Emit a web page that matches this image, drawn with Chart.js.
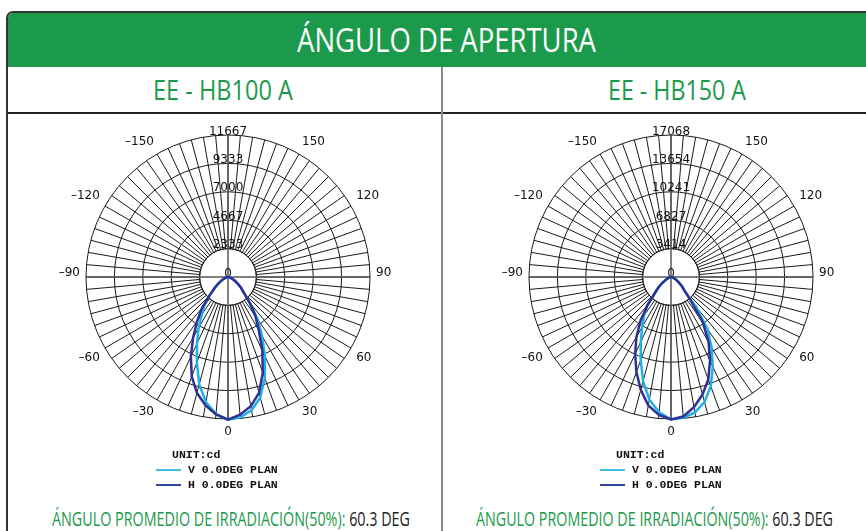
<!DOCTYPE html>
<html>
<head>
<meta charset="utf-8">
<script src="https://cdn.jsdelivr.net/npm/chart.js@4.4.1/dist/chart.umd.min.js"></script>
<style>
  body { margin: 0; width: 866px; height: 531px; overflow: hidden; background: #fff; position: relative; font-family: 'Open Sans', sans-serif; }
  .abs { position: absolute; }
  #frame { left: 6px; top: 11px; width: 900px; height: 560px; border: 2px solid #333; border-radius: 7px 0 0 0; box-sizing: border-box; }
  #head { left: 8px; top: 13px; width: 900px; height: 54px; background: #1b9a4b; border-radius: 5px 0 0 0; }
  .fit { white-space: nowrap; transform-origin: 0 0; line-height: 1; }
  .green { color: #1b9a4b; }
  .leg { font-family: 'Liberation Mono', monospace; font-weight: bold; font-size: 11.5px; line-height: 12px; color: #111; white-space: nowrap; }
  .sw { height: 2px; width: 25px; }
  .wrap { width: 360px; height: 360px; }
</style>
</head>
<body>
<div id="frame" class="abs"></div>
<div id="head" class="abs"></div>
<div class="abs" style="left:8px;top:112px;width:860px;height:1.5px;background:#222"></div>
<div class="abs" style="left:440.5px;top:67px;width:2.6px;height:470px;background:#8c8c8c"></div>

<div id="tHead" class="abs fit" style="font-size:32px;color:#fff">ÁNGULO DE APERTURA</div>
<div id="tLeft" class="abs fit green" style="font-size:27px">EE - HB100 A</div>
<div id="tRight" class="abs fit green" style="font-size:27px">EE - HB150 A</div>

<div class="abs wrap" style="left:48px;top:97px"><canvas id="chartA" width="360" height="360"></canvas></div>
<div class="abs wrap" style="left:491px;top:97px"><canvas id="chartB" width="360" height="360"></canvas></div>

<div class="abs leg" style="left:172px;top:449px">UNIT:cd</div>
<div class="abs sw" style="left:156px;top:469px;background:#3fc0df"></div>
<div class="abs leg" style="left:188px;top:464px">V 0.0DEG PLAN</div>
<div class="abs sw" style="left:156px;top:484px;background:#34479a"></div>
<div class="abs leg" style="left:188px;top:479px">H 0.0DEG PLAN</div>

<div class="abs leg" style="left:616px;top:449px">UNIT:cd</div>
<div class="abs sw" style="left:600px;top:469px;background:#3fc0df"></div>
<div class="abs leg" style="left:632px;top:464px">V 0.0DEG PLAN</div>
<div class="abs sw" style="left:600px;top:484px;background:#34479a"></div>
<div class="abs leg" style="left:632px;top:479px">H 0.0DEG PLAN</div>

<div id="bLeft" class="abs fit" style="font-size:19.5px"><span class="green">ÁNGULO PROMEDIO DE IRRADIACIÓN(50%):</span><span style="color:#222"> 60.3 DEG</span></div>
<div id="bRight" class="abs fit" style="font-size:19.5px"><span class="green">ÁNGULO PROMEDIO DE IRRADIACIÓN(50%):</span><span style="color:#222"> 60.3 DEG</span></div>

<script>
// angles in degrees: 0 = straight down, positive = right half
const angles = [-90, -85, -80, -75, -70, -65, -60, -55, -50, -45, -40, -35, -30, -25, -20, -15, -10, -5,
  0, 5, 10, 15, 20, 25, 30, 35, 40, 45, 50, 55, 60, 65, 70, 75, 80, 85, 90];

// EE - HB100 A (cd)
const hb100V = [0, 20, 70, 150, 270, 440, 680, 1040, 1470, 2140, 3000, 3730, 4840, 6030, 7480, 9130, 10440, 11300,
  11720, 11580, 11120, 10240, 8830, 7180, 5580, 4240, 2850, 1870, 1410, 1010, 700, 450, 280, 150, 70, 20, 0];
const hb100H = [0, 20, 70, 150, 270, 440, 680, 1040, 1470, 2140, 3310, 4420, 5730, 7220, 8700, 9860, 10690, 11330,
  11720, 11360, 10780, 9850, 8360, 6670, 5070, 3930, 2790, 1870, 1410, 1010, 700, 450, 280, 150, 70, 20, 0];

// EE - HB150 A (cd)
const hb150V = [0, 25, 80, 180, 330, 530, 820, 1360, 2010, 2760, 4390, 5620, 6950, 8590, 10650, 12960, 14980, 16320,
  17120, 17000, 16520, 15560, 13980, 11880, 9760, 7650, 4760, 2240, 1690, 1130, 800, 530, 330, 180, 80, 25, 0];
const hb150H = [0, 25, 80, 180, 330, 530, 820, 1360, 2010, 2760, 4390, 6370, 8310, 10200, 12150, 14040, 15680, 16650,
  17120, 16840, 15900, 14630, 13100, 11100, 9040, 6700, 3650, 2240, 1690, 1130, 800, 530, 330, 180, 80, 25, 0];

// ring values
const ringsHB100 = [2333, 4667, 7000, 9333, 11667];
const ringsHB150 = [3414, 6827, 10241, 13654, 17068];

// angle labels round the rim (180 at the top is left blank)
const rimLabels = [150, 120, 90, 60, 30, 0, -30, -60, -90, -120, -150];

// full circle of spokes every 5 degrees, clockwise from the top (180)
const circle = [];
for (let a = 180; a > -180; a -= 5) circle.push(a);
const onCircle = s => circle.map(a => { const i = angles.indexOf(a); return i < 0 ? 0 : s[i]; });

const polarDecor = {
  id: 'polarDecor',
  beforeDatasetsDraw(chart, args, opts) {
    const r = chart.scales.r, ctx = chart.ctx;
    const cx = r.xCenter, cy = r.yCenter, R = r.drawingArea;
    const hole = r.getDistanceFromCenterForValue(opts.rings[0]);
    ctx.save();
    // empty centre, spokes start at the first ring
    ctx.fillStyle = '#fff';
    ctx.beginPath(); ctx.arc(cx, cy, hole - 0.6, 0, Math.PI * 2); ctx.fill();
    ctx.strokeStyle = '#1a1a1a'; ctx.lineWidth = 1;
    ctx.beginPath(); ctx.arc(cx, cy, hole, 0, Math.PI * 2); ctx.stroke();
    ctx.strokeStyle = '#5a5a5a'; ctx.lineWidth = 1.5;
    ctx.beginPath();
    ctx.moveTo(cx - R, cy); ctx.lineTo(cx + R, cy);
    ctx.moveTo(cx, cy - R); ctx.lineTo(cx, cy + R);
    ctx.stroke();

    ctx.fillStyle = '#111';
    ctx.font = '12px "DejaVu Sans"';
    // ring values up the vertical axis
    ctx.textAlign = 'center'; ctx.textBaseline = 'alphabetic';
    [0, ...opts.rings].forEach(v => {
      const d = r.getDistanceFromCenterForValue(v);
      ctx.fillText(String(v), cx, cy - d - 0.5);
    });
    // angle labels
    ctx.textBaseline = 'middle';
    const h = 14;
    circle.forEach((a, i) => {
      if (!rimLabels.includes(a)) return;
      const p = r.getPointPosition(i, R + 6);
      const deg = (i * 5) % 360;
      ctx.textAlign = (deg === 0 || deg === 180) ? 'center' : (deg < 180 ? 'left' : 'right');
      let y;
      if (deg === 90 || deg === 270) y = p.y - 4;
      else if (deg < 90 || deg > 270) y = p.y - h / 2;
      else y = p.y + h / 2;
      ctx.fillText(a < 0 ? '–' + Math.abs(a) : String(a), p.x, y);
    });
    ctx.restore();
  }
};

function polarChart(id, v, hSeries, rings) {
  new Chart(document.getElementById(id), {
    type: 'radar',
    data: {
      labels: circle.map(String),
      datasets: [
        { label: 'H 0.0DEG PLAN', data: onCircle(hSeries), borderColor: '#2e3192' },
        { label: 'V 0.0DEG PLAN', data: onCircle(v), borderColor: '#1eb0e6' }
      ]
    },
    options: {
      responsive: false,
      animation: false,
      layout: { padding: 38 },
      elements: {
        point: { radius: 0 },
        line: { tension: 0, borderWidth: 2.5, fill: false }
      },
      plugins: {
        legend: { display: false },
        tooltip: { enabled: false },
        polarDecor: { rings: rings }
      },
      scales: {
        r: {
          min: 0,
          max: rings[rings.length - 1],
          afterBuildTicks: s => { s.ticks = [0, ...rings].map(t => ({ value: t })); },
          ticks: { display: false },
          pointLabels: { display: false },
          grid: { circular: true, color: '#1a1a1a', lineWidth: 1 },
          angleLines: { color: '#1a1a1a', lineWidth: 1 }
        }
      }
    },
    plugins: [polarDecor]
  });
}

polarChart('chartA', hb100V, hb100H, ringsHB100);
polarChart('chartB', hb150V, hb150H, ringsHB150);

// squeeze the headings to the condensed widths of the original
function fit(id, left, right, top) {
  const el = document.getElementById(id);
  el.style.left = left + 'px';
  el.style.top = top + 'px';
  const w = el.getBoundingClientRect().width;
  el.style.transform = 'scaleX(' + ((right - left) / w) + ')';
}
fit('tHead', 297, 596, 23.5);
fit('tLeft', 153, 293, 76);
fit('tRight', 608, 746, 76);
fit('bLeft', 52, 410, 509);
fit('bRight', 476, 833, 509);
</script>
</body>
</html>
